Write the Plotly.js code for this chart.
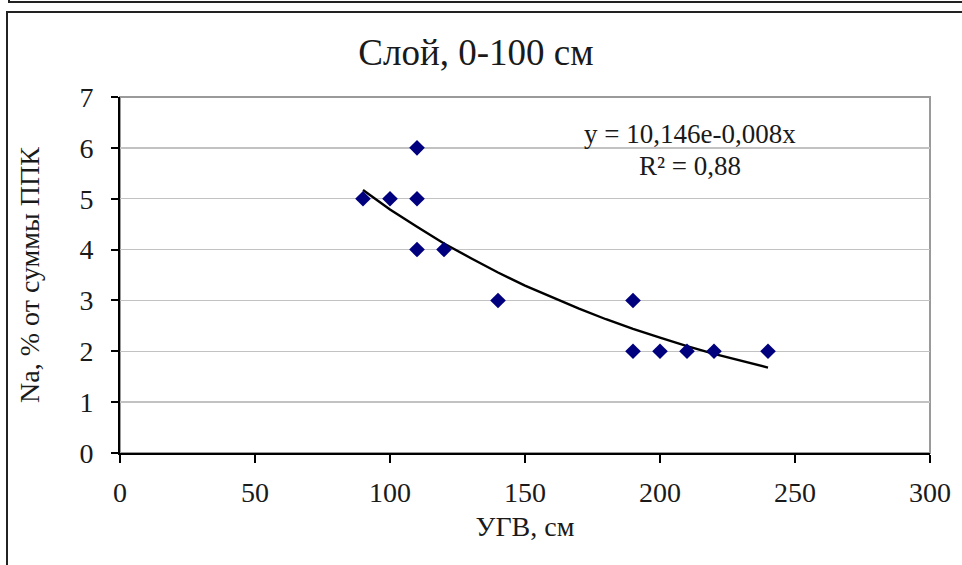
<!DOCTYPE html>
<html>
<head>
<meta charset="utf-8">
<script src="https://cdn.plot.ly/plotly-3.0.1.min.js"></script>
<style>
  html, body { margin: 0; padding: 0; background: #fff; }
  #wrap { position: relative; width: 962px; height: 565px; overflow: hidden; }
  #chart { position: absolute; left: 0; top: 0; width: 962px; height: 565px; }
  .frame1 { position: absolute; left: 8px; top: -9px; width: 1000px; height: 10px;
            border-left: 2px solid #222; border-bottom: 2px solid #222; pointer-events: none; }
  .frame2 { position: absolute; left: 6px; top: 11px; width: 1000px; height: 1000px;
            border-left: 2px solid #222; border-top: 2px solid #222; pointer-events: none; }
</style>
</head>
<body>
<div id="wrap">
  <div id="chart"></div>
  <div class="frame1"></div>
  <div class="frame2"></div>
</div>
<script>
// Measured points: groundwater level (УГВ, см) vs Na, % of ППК sum
var ugv = [90, 100, 110, 110, 110, 120, 140, 190, 190, 200, 210, 220, 240];
var na  = [5, 5, 6, 5, 4, 4, 3, 3, 2, 2, 2, 2, 2];

// Exponential trendline
var trendX = [90, 100, 110, 120, 130, 140, 150, 160, 170, 180, 190, 200, 210, 220, 230, 240];
var trendY = [5.17, 4.79, 4.45, 4.12, 3.83, 3.55, 3.29, 3.06, 2.84, 2.63, 2.44, 2.27, 2.10, 1.95, 1.81, 1.68];

var titleText = 'Слой, 0-100 см';
var xTitle = 'УГВ, см';
var yTitle = 'Na, % от суммы ППК';
var eqText = 'y = 10,146e-0,008x';
var r2Text = 'R² = 0,88';
var xTicks = [0, 50, 100, 150, 200, 250, 300];
var yTicks = [0, 1, 2, 3, 4, 5, 6, 7];

var serif = 'Liberation Serif, Times New Roman, serif';
var txt = '#1a1a1a';

var traces = [
  {
    x: trendX, y: trendY, mode: 'lines', type: 'scatter',
    line: { color: '#000000', width: 2.4 },
    hoverinfo: 'skip', showlegend: false
  },
  {
    x: ugv, y: na, mode: 'markers', type: 'scatter',
    marker: { symbol: 'diamond', size: 12, color: '#00007f' },
    showlegend: false
  }
];

var layout = {
  width: 962, height: 565,
  margin: { l: 120, r: 32, t: 97, b: 112 },
  paper_bgcolor: 'rgba(0,0,0,0)',
  plot_bgcolor: '#ffffff',
  font: { family: serif, color: txt, size: 28 },
  title: {
    text: titleText,
    font: { family: serif, size: 37, color: txt },
    x: 476 / 962, xanchor: 'center', xref: 'container',
    y: 1 - 52 / 565, yanchor: 'middle', yref: 'container'
  },
  xaxis: {
    range: [0, 300], tickvals: xTicks, ticktext: xTicks.map(String),
    showgrid: false, zeroline: false,
    showline: true, linecolor: '#000', linewidth: 2,
    ticks: 'outside', ticklen: 8, tickwidth: 2, tickcolor: '#000',
    ticklabelstandoff: 5,
    tickfont: { family: serif, size: 28, color: txt },
    title: { text: xTitle, font: { family: serif, size: 28, color: txt }, standoff: 10 },
    automargin: false, fixedrange: true
  },
  yaxis: {
    range: [0, 7], tickvals: yTicks, ticktext: yTicks.map(String),
    showgrid: true, gridcolor: '#c2c2c2', gridwidth: 1.5, zeroline: false,
    showline: true, linecolor: '#000', linewidth: 2,
    ticks: 'outside', ticklen: 7, tickwidth: 2, tickcolor: '#000',
    ticklabelstandoff: 12,
    tickfont: { family: serif, size: 28, color: txt },
    title: { text: yTitle, font: { family: serif, size: 28, color: txt }, standoff: 32 },
    automargin: false, fixedrange: true
  },
  shapes: [
    { type: 'rect', xref: 'paper', yref: 'paper', x0: 0, x1: 1, y0: 0, y1: 1,
      line: { color: '#9a9a9a', width: 2 }, layer: 'below' }
  ],
  annotations: [
    { text: eqText, xref: 'paper', yref: 'paper', x: (690 - 120) / 810, y: (453 - 134) / 356,
      xanchor: 'center', yanchor: 'middle', showarrow: false,
      font: { family: serif, size: 27, color: txt } },
    { text: r2Text, xref: 'paper', yref: 'paper', x: (690 - 120) / 810, y: (453 - 166) / 356,
      xanchor: 'center', yanchor: 'middle', showarrow: false,
      font: { family: serif, size: 27, color: txt } }
  ],
  hovermode: false
};

Plotly.newPlot('chart', traces, layout, { displayModeBar: false, staticPlot: true });
</script>
</body>
</html>
